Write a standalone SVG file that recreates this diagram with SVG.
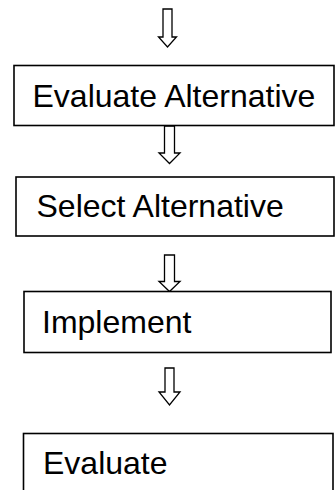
<svg xmlns="http://www.w3.org/2000/svg" width="335" height="490" viewBox="0 0 335 490">
<style>
.box{fill:#fff;stroke:#000;stroke-width:1.6}
.lbl{font-family:"Liberation Sans",Arial,sans-serif;font-size:32px;fill:#000}
.arr{fill:#fff;stroke:#000;stroke-width:1.3;stroke-linejoin:miter}
</style>
<rect width="335" height="490" fill="#fff"/>
<g id="connectors">
<polygon class="arr" points="163,9 172,9 172,37 176.5,37 167.5,47 158.5,37 163,37"/>
<polygon class="arr" points="164.5,126 174.5,126 174.5,153 180,153 169.5,163.5 159,153 164.5,153"/>
<polygon class="arr" points="164.5,255 174.5,255 174.5,281.5 180,281.5 169.5,291.5 159,281.5 164.5,281.5"/>
<polygon class="arr" points="165,368 174,368 174,392 180,392 169.5,405 159,392 165,392"/>
</g>
<g id="n1">
<rect class="box" x="14" y="65.5" width="320" height="60"/>
<text class="lbl" x="32.5" y="106.5">Evaluate Alternative</text>
</g>
<g id="n2">
<rect class="box" x="16" y="177" width="318" height="59"/>
<text class="lbl" x="36.5" y="217">Select Alternative</text>
</g>
<g id="n3">
<rect class="box" x="24" y="291.5" width="307" height="61"/>
<text class="lbl" x="42" y="332.5">Implement</text>
</g>
<g id="n4">
<rect class="box" x="23.5" y="433.5" width="309.5" height="70"/>
<text class="lbl" x="43" y="474">Evaluate</text>
</g>
</svg>
